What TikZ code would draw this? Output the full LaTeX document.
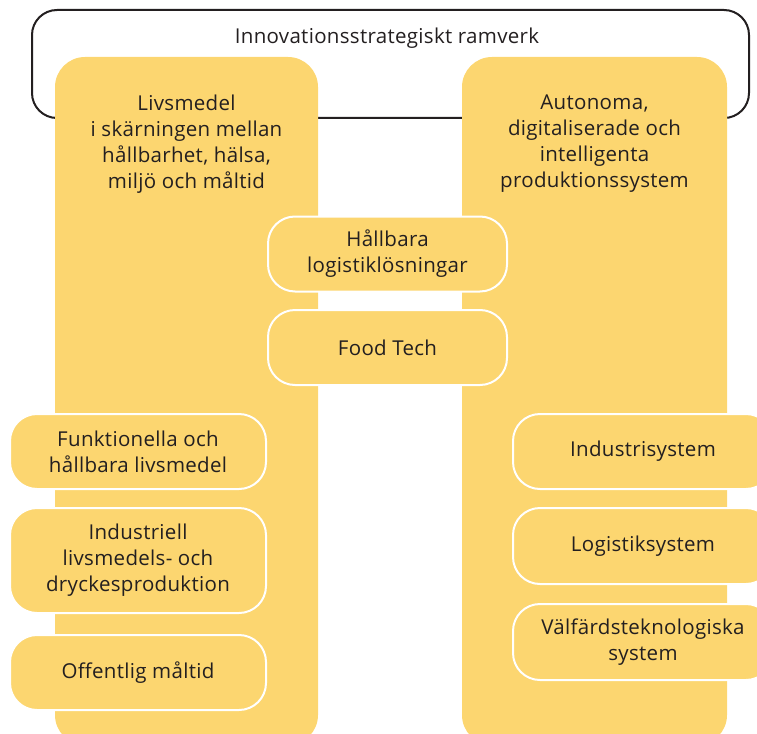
\documentclass[tikz,border=0pt]{standalone}
\usepackage{fontspec}
\setmainfont{Open Sans}[LetterSpace=1.5]
\usetikzlibrary{positioning}
\definecolor{gul}{RGB}{252,214,112}
\definecolor{ram}{RGB}{35,31,32}
\definecolor{text}{RGB}{35,31,32}
\tikzset{
  every picture/.style = {
    x = 1pt,
    y = -1pt,
  }
  ,
  ramverk/.style = {
    rectangle,
    rounded corners = 25pt,
    draw = ram,
    line width = 2pt,
    minimum width = 717pt,
    minimum height = 108pt
  }
  , % de stora pelarna
  pelare/.style = {
    rectangle,
    rounded corners = 30pt,
    fill = gul,
    minimum height = 688pt
  }
  , % rubriker i pelarna
  rubrik/.style = {
    align = center,
    text = text,
    font = \fontsize{20.5}{26}\selectfont
  }
  , % omraden med vit kant
  omrade/.style = {
    rectangle,
    rounded corners = 27pt,
    fill = gul,
    draw = white,
    line width = 2pt,
    align = center,
    text = text,
    font = \fontsize{20.5}{26}\selectfont,
    minimum height = 75pt
  }
}
\begin{document}
\begin{tikzpicture}
    \useasboundingbox (0,0) rectangle (757,733);
    \node at (390.5,64) [ramverk] (ram) {};
    \node at (387,38) [rubrik] (ramtext) {Innovationsstrategiskt ramverk};

    \node at (186.5,401) [pelare,minimum width=263pt] (livs) {};
    \node at (594.5,401) [pelare,minimum width=265pt] (auto) {};
    \node at (186.5,144) [rubrik] (livstext) {Livsmedel\\i skärningen mellan\\hållbarhet, hälsa,\\miljö och måltid};
    \node at (594.5,144) [rubrik] (autotext) {Autonoma,\\digitaliserade och\\intelligenta\\produktionssystem};

    \node at (387.5,254) [omrade,minimum width=239pt] (logistik) {Hållbara\\logistiklösningar};
    \node at (387.5,347.5) [omrade,minimum width=239pt] (food) {Food Tech};

    \node at (138,451.5) [omrade,minimum width=256pt] (funk) {Funktionella och\\hållbara livsmedel};
    \node at (138,560.5) [omrade,minimum width=256pt,minimum height=105pt] (indprod) {Industriell\\livsmedels- och\\dryckesproduktion};
    \node at (138,672.5) [omrade,minimum width=256pt] (offentlig) {Offentlig måltid};

    \node at (643,451.5) [omrade,minimum width=260pt] (indsys) {Industrisystem};
    \node at (643,546) [omrade,minimum width=260pt,minimum height=76pt] (logsys) {Logistiksystem};
    \node at (643,642) [omrade,minimum width=260pt,minimum height=76pt] (valfard) {Välfärdsteknologiska\\system};
\end{tikzpicture}
\end{document}
